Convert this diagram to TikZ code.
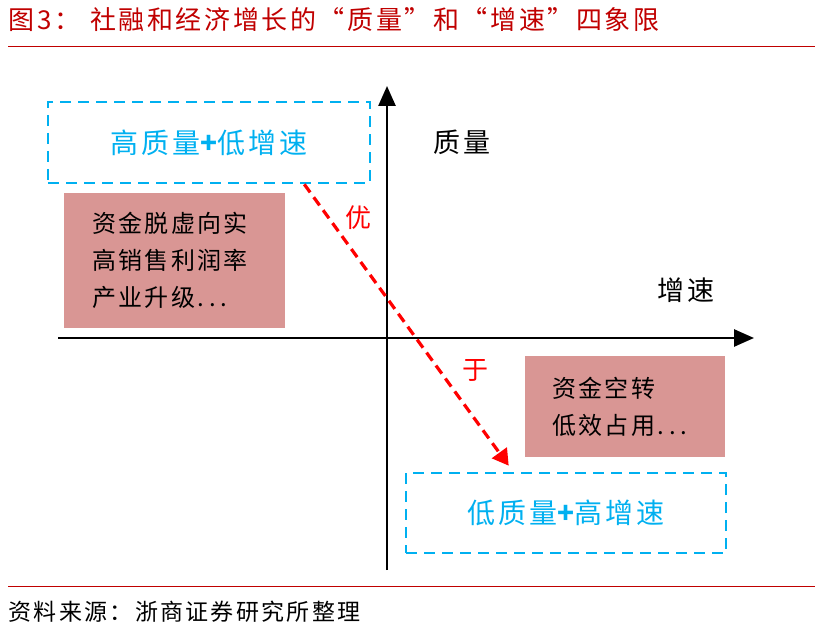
\documentclass[tikz,border=0pt]{standalone}
\usepackage{fontspec}
\setmainfont{Noto Sans CJK SC}[LetterSpace=10]
\usetikzlibrary{arrows.meta}
\definecolor{titlered}{HTML}{C00000}
\definecolor{boxcyan}{HTML}{00B0F0}
\definecolor{notepink}{HTML}{D99694}
\newcommand{\dotsgap}{.\hspace{5pt}.\hspace{5pt}.}

\begin{document}
\begin{tikzpicture}[x=1pt,y=-1pt,>=Stealth,
  axis/.style={line width=2.6pt,-{Triangle[length=20pt,width=17pt]}},
  quadbox/.style={draw=boxcyan,line width=2.6pt,dash pattern=on 11pt off 7pt,
    text=boxcyan,minimum width=322pt,minimum height=81pt,font=\fontsize{28}{30}\selectfont},
  notebox/.style={fill=notepink,align=left,inner ysep=0pt,font=\fontsize{24}{37}\selectfont},
  axislabel/.style={font=\fontsize{27}{30}\selectfont},
  betterlabel/.style={text=red,font=\fontsize{26}{28}\selectfont}]
  \useasboundingbox (0,0) rectangle (822,636);
  % title and rules
  \node[anchor=west,text=titlered,font=\fontsize{26}{28}\selectfont] (title) at (5,20)
    {图3：\hspace{10pt}社融和经济增长的“质量”和“增速”四象限};
  \draw[titlered,line width=1pt] (8,47) -- (815,47);
  \draw[titlered,line width=1pt] (8,586) -- (815,586);
  \node[anchor=west,font=\fontsize{23}{24}\selectfont] (source) at (5,612) {资料来源：浙商证券研究所整理};
  % axes
  \coordinate (ybot) at (387,570);
  \coordinate (ytop) at (387,86);
  \coordinate (xleft) at (58,338);
  \coordinate (xright) at (754,338);
  \draw[axis] (ybot) -- (ytop);
  \draw[axis] (xleft) -- (xright);
  \node[axislabel] (qual) at (462,142) {质量};
  \node[axislabel] (speed) at (686,290) {增速};
  % quadrants
  \node[quadbox] (hq) at (209,142.5) {高质量{\bfseries +}低增速};
  \node[quadbox,minimum width=320pt,minimum height=80pt] (lq) at (566,513) {低质量{\bfseries +}高增速};
  \node[notebox,text width=165pt,inner xsep=28pt,minimum height=135pt] (hqnote) at (174.5,260.5)
    {资金脱虚向实\\高销售利润率\\产业升级\dotsgap};
  \node[notebox,text width=146pt,inner xsep=27pt,minimum height=101pt] (lqnote) at (625,406.5)
    {资金空转\\低效占用\dotsgap};
  % better than
  \draw[red,line width=3.2pt,dash pattern=on 10pt off 6pt,-{Triangle[length=16pt,width=18pt]}]
    ([xshift=-67pt]hq.south east) -- ([xshift=104pt,yshift=6pt]lq.north west);
  \node[betterlabel] (you) at (358,218) {优};
  \node[betterlabel] (yu) at (475,370) {于};
\end{tikzpicture}
\end{document}
